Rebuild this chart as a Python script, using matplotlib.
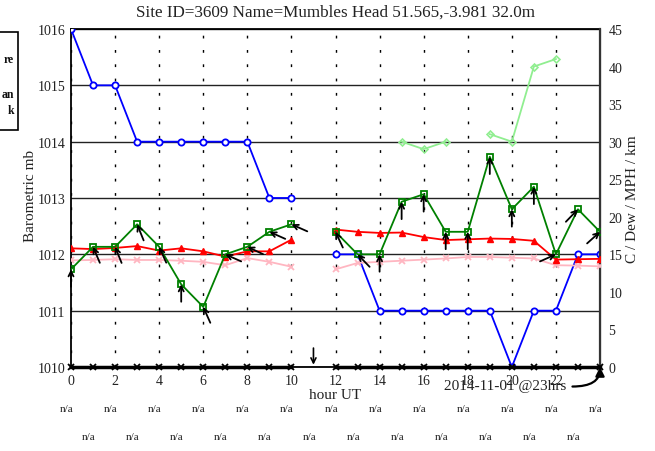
import numpy as np
import matplotlib
matplotlib.use('Agg')
import matplotlib.pyplot as plt
from matplotlib.patches import Rectangle
import matplotlib.transforms as mtransforms

nan = np.nan

# ---------------- data ----------------
hours = list(range(25))
pressure = [1016, 1015, 1015, 1014, 1014, 1014, 1014, 1014, 1014, 1013, 1013, nan,
            1012, 1012, 1011, 1011, 1011, 1011, 1011, 1011, 1010, 1011, 1011, 1012, 1012]
temperature = [15.8, 15.7, 15.85, 16.1, 15.5, 15.8, 15.4, 14.7, 15.4, 15.4, 16.95, nan,
               18.3, 18.0, 17.85, 17.9, 17.3, 16.9, 17.0, 17.1, 17.05, 16.8, 14.3, 14.35, 14.4]
dewpoint = [14.2, 14.25, 14.35, 14.25, 14.25, 14.15, 14.0, 13.55, 14.5, 14.0, 13.35, nan,
            13.0, 13.85, 14.0, 14.15, 14.3, 14.45, 14.65, 14.65, 14.55, 14.45, 13.55, 13.5, 13.4]
wind_mph = [13, 16, 16, 19, 16, 11, 8, 15, 16, 18, 19, nan,
            18, 15, 15, 22, 23, 18, 18, 28, 21, 24, 15, 21, 18]
gust_mph = [nan, nan, nan, nan, nan, nan, nan, nan, nan, nan, nan, nan,
            nan, nan, nan, 30, 29, 30, nan, 31, 30, 40, 41, nan, nan]
wind_dir = [180, 157, 158, 158, 156, 180, 156, 114, 115, 114, 114, nan,
            155, 136, 180, 180, 180, 180, 180, 180, 180, 180, 246, 224, 228]
rain = [0, 0, 0, 0, 0, 0, 0, 0, 0, 0, 0, nan,
        0, 0, 0, 0, 0, 0, 0, 0, 0, 0, 0, 0, 0]
missing_hours = [11]
xticks = [0, 2, 4, 6, 8, 10, 12, 14, 16, 18, 20, 22]
left_ticks = [1010, 1011, 1012, 1013, 1014, 1015, 1016]
right_ticks = [0, 5, 10, 15, 20, 25, 30, 35, 40, 45]
na_labels = ['n/a'] * 25
title = 'Site ID=3609 Name=Mumbles Head 51.565,-3.981 32.0m'
legend_fragments = ['re', 'an', 'k']

# ---------------- figure ----------------
plt.rcParams['font.family'] = ['Liberation Serif', 'DejaVu Serif']
W, H = 655, 452
fig = plt.figure(figsize=(W / 100, H / 100), dpi=100)
ax = fig.add_axes([71 / W, 1 - 368 / H, (600 - 71) / W, (368 - 30) / H])
ax.set_xlim(0, 24)
ax.set_ylim(1010, 1016)
ax2 = ax.twinx()
ax2.set_ylim(0, 45)

# grid
ax.set_xticks(xticks)
ax.set_yticks(left_ticks)
ax.xaxis.grid(True, linestyle=(0, (2, 8.3)), color='black', lw=1.0)
ax.yaxis.grid(True, linestyle='-', color='#222222', lw=1.0)
ax.set_axisbelow(True)

for sp in ['left', 'top', 'bottom']:
    ax.spines[sp].set_color('black')
    ax.spines[sp].set_linewidth(1.3)
ax2.spines['right'].set_color('#333333')
ax2.spines['right'].set_linewidth(1.6)
for sp in ['left', 'top', 'bottom']:
    ax2.spines[sp].set_visible(False)

ax.tick_params(axis='both', direction='in', length=0, labelsize=10, colors='#222222')
ax.tick_params(axis='x', pad=5)
ax.tick_params(axis='y', pad=4)
ax2.set_yticks(right_ticks)
ax2.tick_params(axis='y', direction='in', length=0, labelsize=10, pad=6, colors='#222222')

# series
ax.plot(hours, pressure, color='#0000ff', lw=1.3, marker='o', ms=4.5,
        mfc='white', mec='#0000ff', mew=1.3, zorder=3)
ax2.plot(hours, dewpoint, color='#ffb6c1', lw=1.3, marker='x', ms=4.5, mew=1.3, zorder=3)
ax2.plot(hours, temperature, color='#ff0000', lw=1.3, marker='^', ms=4.5,
         mfc='#ff0000', mec='#ff0000', zorder=4)
ax2.plot(hours, gust_mph, color='#90ee90', lw=1.3, marker='D', ms=3.5,
         mfc='none', mec='#90ee90', mew=1.2, zorder=3)
ax2.plot(hours, wind_mph, color='#008000', lw=1.3, marker='s', ms=5,
         mfc='none', mec='#008000', mew=1.3, zorder=5)
ax2.plot(hours, rain, color='black', lw=2.5, marker='x', ms=4, mew=1.3, zorder=6,
         clip_on=False)

# wind direction arrows (head at point, tail toward where wind comes from)
L = 12.5  # points
for h, v, d in zip(hours, wind_mph, wind_dir):
    if np.isnan(v) or np.isnan(d):
        continue
    r = np.deg2rad(d)
    ax2.annotate('', xy=(h, v), xytext=(L * np.sin(r), L * np.cos(r)),
                 textcoords='offset points',
                 arrowprops=dict(arrowstyle='->', color='black', lw=1.3,
                                 shrinkA=0, shrinkB=0, mutation_scale=9),
                 zorder=8)

# missing-data marker
for h in missing_hours:
    ax2.annotate('', xy=(h, 0.3), xytext=(0, 12), textcoords='offset points',
                 arrowprops=dict(arrowstyle='->', color='black', lw=1.2,
                                 shrinkA=0, shrinkB=0, mutation_scale=9),
                 annotation_clip=False, zorder=8)

# date annotation
ax2.text(22.45, -2.45, '2014-11-01 @23hrs', ha='right', va='center', fontsize=11,
         color='#222222', clip_on=False)
ax2.annotate('', xy=(24, 0), xytext=(22.75, -2.6),
             arrowprops=dict(arrowstyle='-|>', color='black', lw=1.6,
                             connectionstyle='angle3,angleA=0,angleB=90',
                             shrinkA=0, shrinkB=0, mutation_scale=13),
             annotation_clip=False, zorder=9)

# labels
fig.text(335.5 / W, 1 - 13 / H, title, ha='center', va='center', fontsize=12.3, color='#222222')
fig.text(335.5 / W, 1 - 396 / H, 'hour UT', ha='center', va='center', fontsize=11, color='#222222')
fig.text(30 / W, 1 - 196 / H, 'Barometric mb', ha='center', va='center', rotation=90,
         fontsize=11, color='#222222')
fig.text(633 / W, 1 - 199 / H, 'C / Dew / MPH / km', ha='center', va='center', rotation=90,
         fontsize=11, color='#222222')

# n/a rows
trans = mtransforms.blended_transform_factory(ax.transData, fig.transFigure)
for h, lab in zip(hours, na_labels):
    yy = 1 - (410 / H) if h % 2 == 0 else 1 - (438 / H)
    ax.text(h - 0.2, yy, lab, transform=trans, ha='center', va='center', fontsize=8,
            color='#222222', clip_on=False)

# clipped legend box at left edge
fig.patches.append(Rectangle((-20 / W, 1 - 131 / H), 38 / W, (131 - 33) / H,
                             transform=fig.transFigure, fill=False, ec='black', lw=1.2))
for txt, yp in zip(legend_fragments, [60, 95, 111]):
    fig.text(14 / W, 1 - yp / H, txt, ha='right', va='center', fontsize=8.5,
             fontweight='bold', color='#111111')

fig.savefig('out.png', dpi=100)
